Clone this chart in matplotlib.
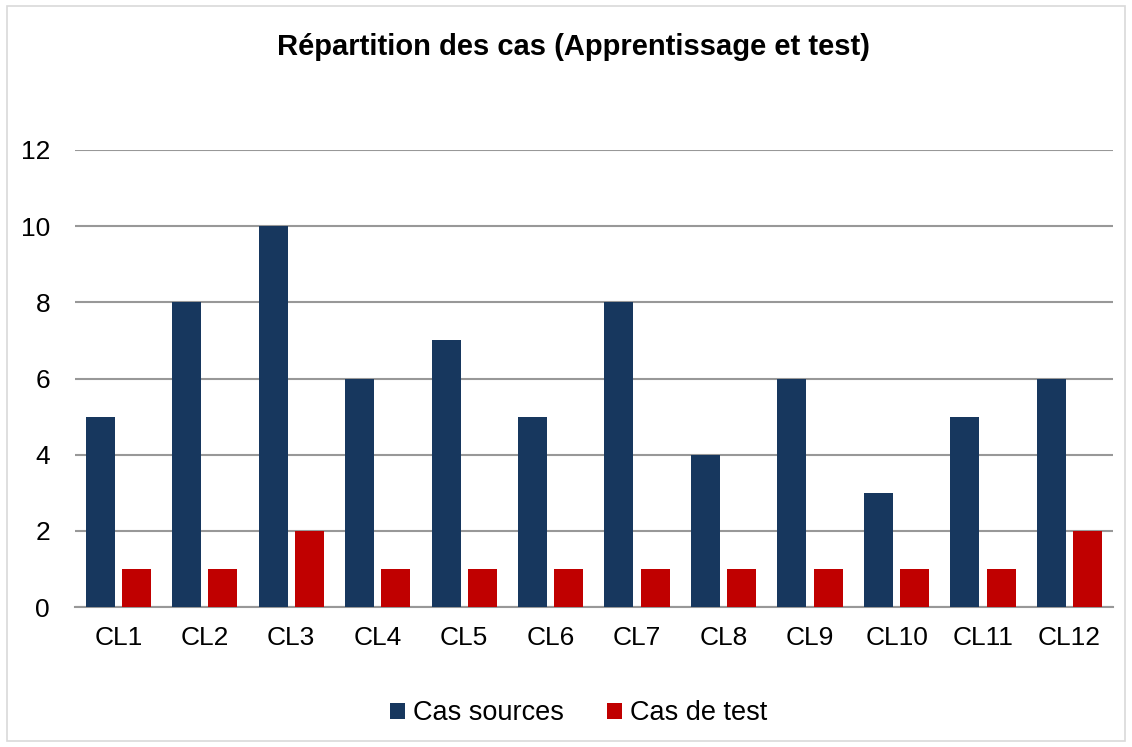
import numpy as np
import matplotlib
matplotlib.use('Agg')
import matplotlib.pyplot as plt
from matplotlib.patches import Rectangle

plt.rcParams['font.family'] = ['Liberation Sans', 'DejaVu Sans']

classes = ['CL1', 'CL2', 'CL3', 'CL4', 'CL5', 'CL6', 'CL7', 'CL8', 'CL9', 'CL10', 'CL11', 'CL12']
cas_sources = [5, 8, 10, 6, 7, 5, 8, 4, 6, 3, 5, 6]
cas_test = [1, 1, 2, 1, 1, 1, 1, 1, 1, 1, 1, 2]

fig = plt.figure(figsize=(11.32, 7.47), dpi=100)
ax = fig.add_axes([0.0663, 0.1874, 0.9167, 0.6118])

# thin frame around the whole chart
fig.patches.append(Rectangle((0.006, 0.008), 0.988, 0.984, transform=fig.transFigure,
                             fill=False, edgecolor='#d9d9d9', linewidth=1.2))

x = np.arange(len(classes))
w = 0.335
ax.bar(x - 0.21, cas_sources, w, color='#17375e', label='Cas sources', zorder=3)
ax.bar(x + 0.21, cas_test, w, color='#c00000', label='Cas de test', zorder=3)

ax.set_xlim(-0.5, len(classes) - 0.5)
ax.set_ylim(0, 12)
ax.set_yticks(range(0, 13, 2))
ax.set_xticks(x)
ax.set_xticklabels(classes)
ax.grid(axis='y', color='#989898', linewidth=1.5, zorder=0)
for s in ['top', 'right', 'left']:
    ax.spines[s].set_visible(False)
ax.spines['bottom'].set_color('#989898')
ax.spines['bottom'].set_linewidth(1.5)
ax.tick_params(axis='both', length=0, labelsize=19, colors='black')
ax.tick_params(axis='x', pad=14)
ax.tick_params(axis='y', pad=18)

fig.text(0.5066, 0.937, 'Répartition des cas (Apprentissage et test)', ha='center', va='center',
         fontsize=21, fontweight='bold')

fig.legend(loc='center', bbox_to_anchor=(0.511, 0.045), ncol=2, frameon=False, fontsize=19.5,
           handlelength=0.55, handleheight=0.55, handletextpad=0.3, columnspacing=1.6)

fig.savefig('out.png', dpi=100)
